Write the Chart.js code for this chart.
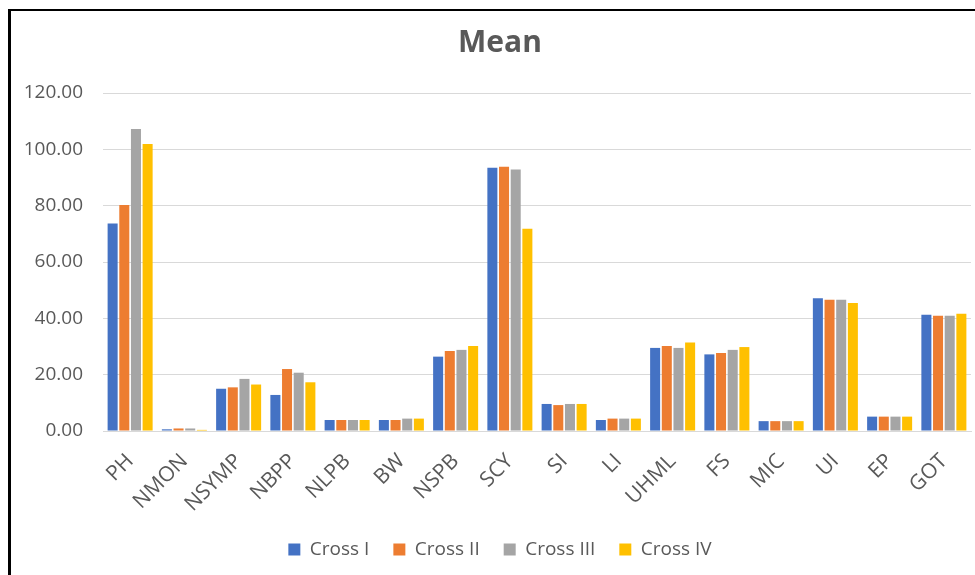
<!DOCTYPE html>
<html>
<head>
<meta charset="utf-8">
<script src="https://cdn.jsdelivr.net/npm/chart.js@4"></script>
<style>
  body { margin: 0; background: #fff; overflow: hidden; }
  #wrap { position: absolute; left: 0; top: 0; width: 1000px; height: 575px; }
  #frame {
    position: absolute; left: 8px; top: 9px; width: 1000px; height: 600px;
    border-left: 3px solid #000; border-top: 2px solid #000; pointer-events: none;
  }
</style>
</head>
<body>
<div id="wrap">
  <canvas id="meanChart" width="1000" height="575"></canvas>
  <div id="frame"></div>
</div>
<script>
const categories = ["PH", "NMON", "NSYMP", "NBPP", "NLPB", "BW", "NSPB", "SCY",
  "SI", "LI", "UHML", "FS", "MIC", "UI", "EP", "GOT"];
const seriesNames = ["Cross I", "Cross II", "Cross III", "Cross IV"];
const crossI   = [73.7, 0.6, 15.0, 12.8, 3.9, 3.9, 26.4, 93.5, 9.6, 3.9, 29.5, 27.2, 3.5, 47.1, 5.1, 41.3];
const crossII  = [80.2, 0.9, 15.5, 22.0, 3.9, 3.9, 28.4, 93.8, 9.2, 4.4, 30.2, 27.7, 3.5, 46.6, 5.1, 40.9];
const crossIII = [107.2, 0.9, 18.5, 20.7, 3.9, 4.4, 28.8, 92.8, 9.6, 4.4, 29.5, 28.8, 3.5, 46.6, 5.1, 40.9];
const crossIV  = [101.9, 0.4, 16.5, 17.3, 3.9, 4.4, 30.2, 71.8, 9.6, 4.4, 31.4, 29.8, 3.5, 45.4, 5.1, 41.6];
const yTicks = [0, 20, 40, 60, 80, 100, 120];

const colors = ["#4472C4", "#ED7D31", "#A5A5A5", "#FFC000"];
const allSeries = [crossI, crossII, crossIII, crossIV];
const textColor = "#595959";

const datasets = allSeries.map((values, i) => ({
  label: seriesNames[i],
  data: values,
  backgroundColor: colors[i],
  borderWidth: 0,
  categoryPercentage: 0.86,
  barPercentage: 0.86,
}));

const ctx = document.getElementById("meanChart").getContext("2d");
new Chart(ctx, {
  type: "bar",
  data: { labels: categories, datasets: datasets },
  options: {
    responsive: false,
    animation: false,
    layout: { padding: { left: 0, right: 0, top: 0, bottom: 6 } },
    plugins: {
      title: {
        display: true,
        text: "Mean",
        color: textColor,
        font: { family: "Open Sans", size: 30, weight: "bold" },
        padding: { top: 25, bottom: 32 },
      },
      legend: {
        position: "bottom",
        labels: {
          color: textColor,
          font: { family: "Open Sans", size: 19 },
          boxWidth: 12,
          boxHeight: 12,
          padding: 24,
        },
      },
      tooltip: { enabled: false },
    },
    scales: {
      x: {
        grid: { display: false, drawTicks: false },
        border: { color: "#d9d9d9", width: 1 },
        ticks: {
          color: textColor,
          font: { family: "Open Sans", size: 21 },
          minRotation: 45,
          maxRotation: 45,
          padding: 18,
          autoSkip: false,
        },
        afterFit: (scale) => { scale.height = 85; },
      },
      y: {
        min: 0,
        max: 120,
        grid: { color: "#d9d9d9", drawTicks: false },
        border: { display: false },
        ticks: {
          stepSize: 20,
          padding: 20,
          color: textColor,
          font: { family: "Open Sans", size: 19 },
          callback: (v) => (yTicks.includes(v) ? v.toFixed(2) : ""),
        },
        afterFit: (scale) => { scale.width = 103; },
      },
      // empty right-hand spacer so the plot ends at x=971 while title/legend centre at 500
      spacer: {
        type: "linear",
        position: "right",
        min: 0,
        max: 120,
        grid: { display: false, drawTicks: false },
        border: { display: false },
        ticks: { display: false },
        afterFit: (scale) => { scale.width = 29; },
      },
    },
  },
});
</script>
</body>
</html>
